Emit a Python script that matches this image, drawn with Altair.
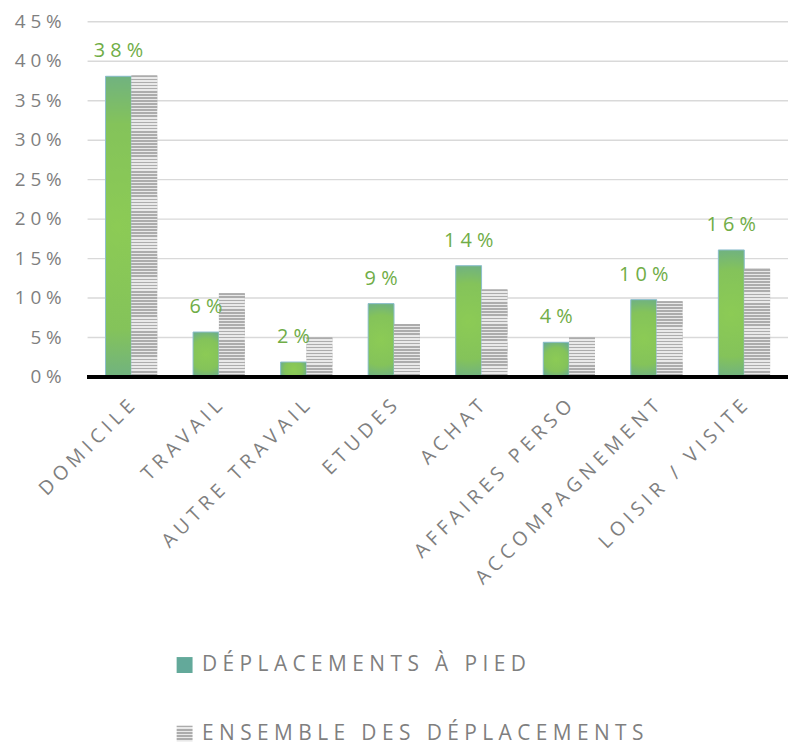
import json
import altair as alt
import pandas as pd

categories = ["DOMICILE", "TRAVAIL", "AUTRE TRAVAIL", "ETUDES", "ACHAT",
              "AFFAIRES PERSO", "ACCOMPAGNEMENT", "LOISIR / VISITE"]
series_names = ["DÉPLACEMENTS À PIED", "ENSEMBLE DES DÉPLACEMENTS"]
pied = [38.1, 5.7, 1.9, 9.3, 14.1, 4.4, 9.8, 16.1]
ensemble = [38.2, 10.6, 5.0, 6.7, 11.1, 5.0, 9.6, 13.7]
y_ticks = [0, 0.05, 0.10, 0.15, 0.20, 0.25, 0.30, 0.35, 0.40, 0.45]

W, H = 704, 357
YMAX = 0.45

rows = []
for c, a, b in zip(categories, pied, ensemble):
    rows.append({"cat": c, "series": series_names[0], "value": a / 100})
    rows.append({"cat": c, "series": series_names[1], "value": b / 100})
df = pd.DataFrame(rows)
ticks_df = pd.DataFrame({"t": y_ticks})

NB = "\u00a0"
SPACED_LABEL = f"join(split(datum.label, ''), '{NB}')"
FONT = "Open Sans"
GREY_TXT = "#7f7f7f"


def stripes(n, dark="#acacac", light="#e9e9e9"):
    stops = []
    for i in range(n):
        a, b, c = i / n, (i + 0.55) / n, (i + 1) / n
        stops += [{"offset": a, "color": dark}, {"offset": b, "color": dark},
                  {"offset": b, "color": light}, {"offset": c, "color": light}]
    return {"gradient": "linear", "x1": 0, "y1": 0, "x2": 0, "y2": 1, "stops": stops}


green_grad = {"gradient": "radial", "x1": 0.5, "y1": 0.5, "r1": 0,
              "x2": 0.5, "y2": 0.5, "r2": 0.62,
              "stops": [{"offset": 0, "color": "#8ccb55"},
                        {"offset": 0.55, "color": "#84c35a"},
                        {"offset": 1, "color": "#62a69c"}]}

x_enc = alt.X("cat:N", sort=categories,
              scale=alt.Scale(domain=categories, paddingInner=0.409, paddingOuter=0.2045),
              axis=alt.Axis(title=None, domain=False, ticks=False, tickSize=0,
                            labelAngle=315, labelAlign="right", labelBaseline="middle",
                            labelPadding=26, labelFont=FONT, labelFontSize=19.5,
                            labelColor=GREY_TXT, labelExpr=SPACED_LABEL,
                            labelOverlap=False, labelLimit=500))
xo_enc = alt.XOffset("series:N", scale=alt.Scale(domain=series_names))
y_scale = alt.Scale(domain=[0, YMAX], nice=False)
y_enc = alt.Y("value:Q", scale=y_scale, axis=None)
PCT_SPACED = f"join(split(format(datum.t, '.0%'), ''), '{NB}')"

grid = alt.Chart(ticks_df).mark_rule(color="#d9d9d9", strokeWidth=1.4).encode(
    y=alt.Y("t:Q", scale=y_scale, axis=None))

ylabels = alt.Chart(ticks_df).transform_calculate(lab=PCT_SPACED).mark_text(
    font=FONT, fontSize=19, color=GREY_TXT, align="right", baseline="middle"
).encode(y=alt.Y("t:Q", scale=y_scale, axis=None), x=alt.value(-26), text="lab:N")

legend_grey = {"expr": json.dumps(stripes(5))}

base = alt.Chart(df).mark_bar().encode(
    x=x_enc, xOffset=xo_enc, y=y_enc,
    color=alt.Color("series:N",
                    scale=alt.Scale(domain=series_names, range=["#63a99a", legend_grey]),
                    legend=alt.Legend(orient="none", legendX=87, legendY=636,
                                      direction="vertical", title=None,
                                      symbolType="square", symbolSize=256,
                                      symbolStrokeWidth=0, labelFont=FONT,
                                      labelFontSize=21, labelColor=GREY_TXT,
                                      labelOffset=7, rowPadding=47, padding=0,
                                      labelLimit=600, labelExpr=SPACED_LABEL)),
)

green = alt.Chart(df).transform_filter(
    alt.datum.series == series_names[0]
).mark_bar(fill=green_grad, stroke="#8fbfcf", strokeWidth=1).encode(
    x=x_enc, xOffset=xo_enc, y=y_enc)

stripe_layers = []
for c, v in zip(categories, ensemble):
    h = v / 100 / YMAX * H
    n = max(1, round(h / 3.1))
    stripe_layers.append(
        alt.Chart(df).transform_filter(
            (alt.datum.cat == c) & (alt.datum.series == series_names[1])
        ).mark_bar(fill=stripes(n)).encode(x=x_enc, xOffset=xo_enc, y=y_enc)
    )

labels = alt.Chart(df).transform_filter(
    alt.datum.series == series_names[0]
).transform_calculate(
    lab=f"join(split(format(datum.value, '.0%'), ''), '{NB}')"
).mark_text(font=FONT, fontSize=20, color="#70ad47", dy=-19,
            baseline="alphabetic", align="center").encode(
    x=x_enc, xOffset=xo_enc, y=y_enc, text="lab:N")

baseline = alt.Chart(df).mark_rule(color="black", strokeWidth=3.5).encode(
    y=alt.YDatum(0, scale=y_scale, axis=None))

chart = alt.layer(grid, ylabels, base, green, *stripe_layers, labels, baseline).properties(
    width=W, height=H,
    padding={"left": 80, "top": 12, "right": 0, "bottom": 368},
    autosize=alt.AutoSizeParams(type="none"),
).configure_view(stroke=None)

chart.save("out.html", embed_options={"renderer": "svg", "actions": False})
